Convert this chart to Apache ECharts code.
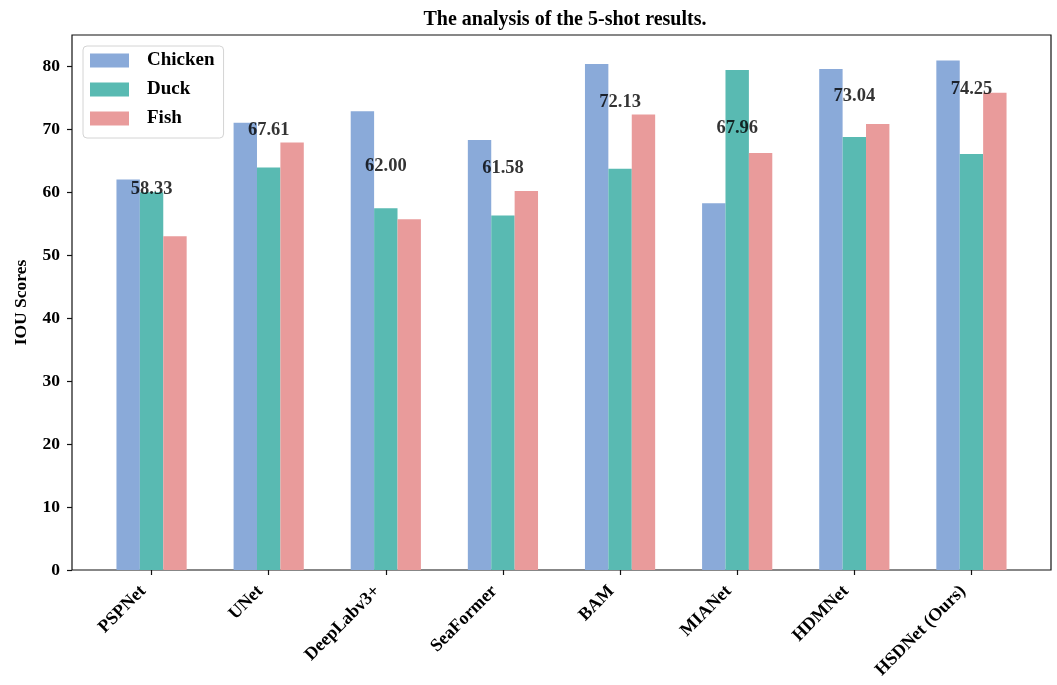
<!DOCTYPE html>
<html>
<head>
<meta charset="utf-8">
<title>The analysis of the 5-shot results.</title>
<script src="https://cdn.jsdelivr.net/npm/echarts@6/dist/echarts.min.js"></script>
<style>
  html, body { margin: 0; padding: 0; background: #fff; }
  #chart { width: 1057px; height: 685px; }
</style>
</head>
<body>
<div id="chart"></div>
<script>
// Methods compared on the x axis
const categories = ['PSPNet', 'UNet', 'DeepLabv3+', 'SeaFormer', 'BAM', 'MIANet', 'HDMNet', 'HSDNet (Ours)'];

// IOU scores per class
const chickenScores = [62.00, 71.00, 72.85, 68.27, 80.35, 58.25, 79.55, 80.90];
const duckScores    = [60.00, 63.93, 57.45, 56.30, 63.70, 79.40, 68.75, 66.05];
const fishScores    = [53.00, 67.90, 55.70, 60.17, 72.34, 66.23, 70.82, 75.80];

// Mean IOU of the three classes, printed above each group
const meanScores = [58.33, 67.61, 62.00, 61.58, 72.13, 67.96, 73.04, 74.25];

// Y axis tick values
const yTicks = [0, 10, 20, 30, 40, 50, 60, 70, 80];
const yMax = 84.95;

const FONT = "'Liberation Serif', 'Times New Roman', serif";
const COLORS = { chicken: '#8AAAD9', duck: '#59BAB2', fish: '#E99B9B' };

const chart = echarts.init(document.getElementById('chart'), null, { renderer: 'canvas' });

const barCommon = {
  type: 'bar',
  xAxisIndex: 0,
  yAxisIndex: 0,
  barWidth: 23.4,
  barGap: '0%',
  animation: false
};

const option = {
  backgroundColor: '#ffffff',
  animation: false,
  title: {
    text: 'The analysis of the 5-shot results.',
    left: 560,
    textAlign: 'center',
    top: 5,
    textStyle: { fontFamily: FONT, fontWeight: 'bold', fontSize: 20, color: '#000' }
  },
  legend: {
    orient: 'vertical',
    left: 83,
    top: 46,
    padding: [5, 9, 10, 7],
    itemWidth: 39,
    itemHeight: 14,
    itemGap: 10,
    icon: 'rect',
    backgroundColor: 'rgba(255,255,255,0.85)',
    borderColor: '#d4d4d4',
    borderWidth: 1,
    borderRadius: 4,
    data: ['Chicken', 'Duck', 'Fish'],
    textStyle: { fontFamily: FONT, fontWeight: 'bold', fontSize: 19, color: '#000', padding: [0, 0, 0, 13] }
  },
  grid: [
    // bar area: category bands
    { left: 93, right: 27, top: 35, bottom: 115, outerBoundsMode: 'none' },
    // frame around the plot
    { left: 72, right: 6, top: 35, bottom: 115, show: true, borderColor: '#111', borderWidth: 1.2,
      backgroundColor: 'transparent', outerBoundsMode: 'none' }
  ],
  xAxis: [
    {
      type: 'category',
      gridIndex: 0,
      data: categories,
      axisLine: { show: false },
      axisTick: { show: true, alignWithLabel: true, length: 5, lineStyle: { color: '#111', width: 1.2 } },
      axisLabel: {
        interval: 0, rotate: 45, margin: 10, padding: [0, 12, 0, 0],
        fontFamily: FONT, fontWeight: 'bold', fontSize: 18, color: '#000'
      },
      splitLine: { show: false }
    },
    { type: 'value', gridIndex: 1, show: false, min: 0, max: 1 }
  ],
  yAxis: [
    { type: 'value', gridIndex: 0, min: 0, max: yMax, show: false, splitLine: { show: false } },
    {
      type: 'value', gridIndex: 1, min: 0, max: yMax,
      name: 'IOU Scores', nameLocation: 'middle', nameGap: 42, nameRotate: 90,
      nameTextStyle: { fontFamily: FONT, fontWeight: 'bold', fontSize: 17.5, color: '#000' },
      axisLine: { show: false },
      axisTick: { show: true, length: 5, customValues: yTicks, lineStyle: { color: '#111', width: 1.2 } },
      axisLabel: { margin: 12, customValues: yTicks, fontFamily: FONT, fontWeight: 'bold', fontSize: 17.5, color: '#000' },
      splitLine: { show: false }
    }
  ],
  series: [
    Object.assign({ name: 'Chicken', data: chickenScores, itemStyle: { color: COLORS.chicken } }, barCommon),
    Object.assign({ name: 'Duck', data: duckScores, itemStyle: { color: COLORS.duck } }, barCommon),
    Object.assign({ name: 'Fish', data: fishScores, itemStyle: { color: COLORS.fish } }, barCommon),
    {
      name: 'Mean',
      type: 'scatter',
      xAxisIndex: 0,
      yAxisIndex: 0,
      data: meanScores,
      symbolSize: 0,
      silent: true,
      z: 5,
      label: {
        show: true,
        position: 'top',
        distance: 4,
        formatter: (p) => p.value.toFixed(2),
        fontFamily: FONT, fontWeight: 'bold', fontSize: 18.5, color: '#000'
      }
    }
  ]
};

chart.setOption(option);
</script>
</body>
</html>
